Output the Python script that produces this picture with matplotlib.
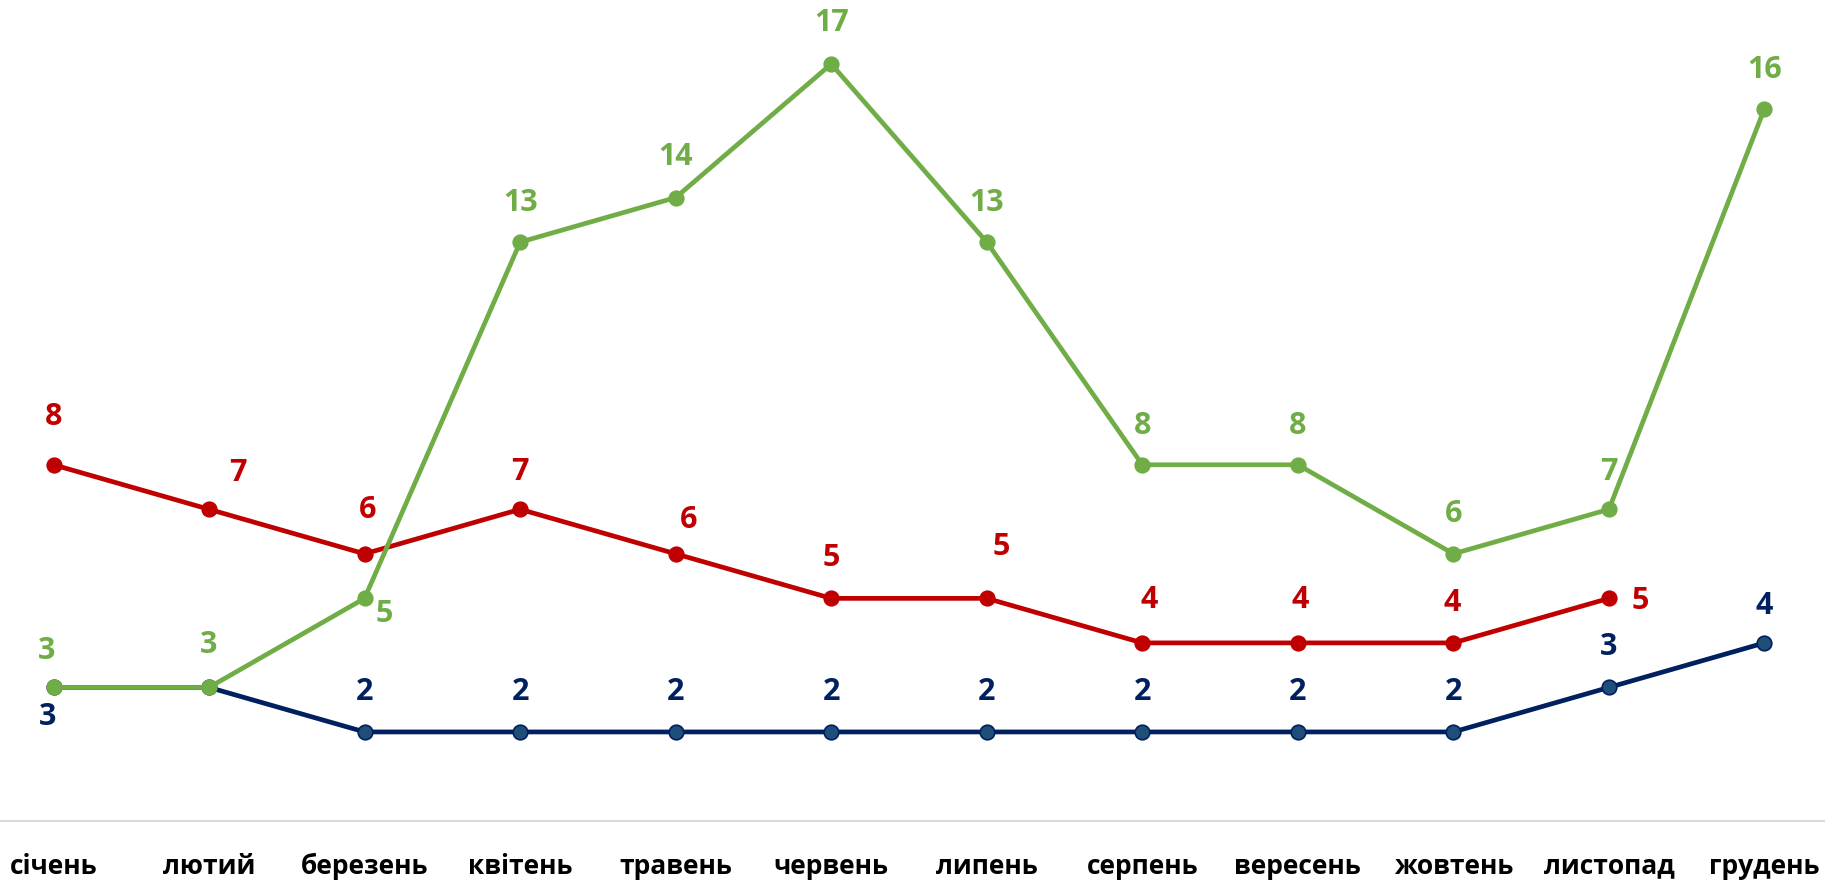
import matplotlib.pyplot as plt

plt.rcParams['font.family'] = ['Open Sans', 'DejaVu Sans']

months = ['січень', 'лютий', 'березень', 'квітень', 'травень', 'червень',
          'липень', 'серпень', 'вересень', 'жовтень', 'листопад', 'грудень']
green_vals = [3, 3, 5, 13, 14, 17, 13, 8, 8, 6, 7, 16]
red_vals = [8, 7, 6, 7, 6, 5, 5, 4, 4, 4, 5]
blue_vals = [3, 3, 2, 2, 2, 2, 2, 2, 2, 2, 3, 4]

GREEN = '#70AD47'
RED = '#C00000'
BLUE = '#002060'

# label offsets in pixels (None = no label)
green_off = [(-7, 37), (0, 43), (20, -15), (0, 40), (0, 42), (0, 42),
             (0, 40), (0, 40), (0, 40), (0, 41), (0, 38), (0, 40)]
red_off = [(0, 49), (29, 37), (3, 45), (0, 38), (13, 35), (0, 41),
           (14, 52), (7, 44), (2, 44), (-1, 41), (31, -2)]
blue_off = [(-6, -29), None, (0, 41), (0, 41), (0, 41), (0, 41),
            (0, 41), (0, 41), (0, 41), (0, 41), (0, 41), (0, 38)]

fig = plt.figure(figsize=(18.25, 8.87), dpi=100)
ax = fig.add_axes([0, 65 / 887, 1, 1 - 65 / 887])

series = [
    (blue_vals, BLUE, '#1F4E79', blue_off),
    (red_vals, RED, RED, red_off),
    (green_vals, GREEN, GREEN, green_off),
]
for vals, col, face, offs in series:
    xs = list(range(len(vals)))
    ax.plot(xs, vals, color=col, lw=3.4, marker='o', ms=10.5,
            mfc=face, mec=col, mew=1.2, solid_capstyle='round')
    for x, v, off in zip(xs, vals, offs):
        if off is None:
            continue
        ax.annotate(str(v), (x, v), xytext=off, textcoords='offset pixels',
                    ha='center', va='center', color=col,
                    fontsize=22, fontweight='bold')

ax.set_xlim(-0.344, 11.389)
ax.set_ylim(0, 18.46)
ax.set_xticks(range(len(months)))
ax.set_xticklabels(months, fontsize=19, fontweight='bold')
ax.tick_params(axis='x', length=0, pad=22)
ax.set_yticks([])
for s in ['top', 'left', 'right']:
    ax.spines[s].set_visible(False)
ax.spines['bottom'].set_color('#D9D9D9')
ax.spines['bottom'].set_linewidth(1.5)

fig.savefig('out.png', dpi=100)
